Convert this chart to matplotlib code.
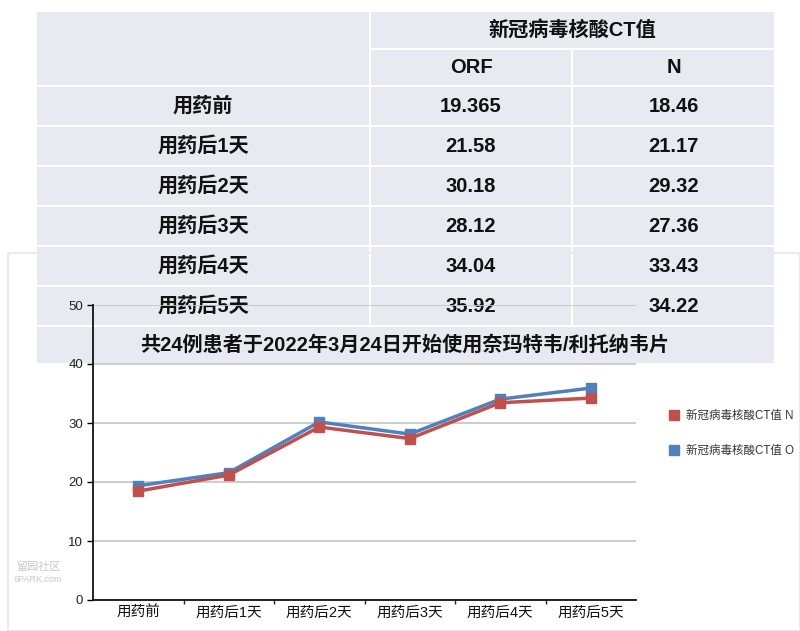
import matplotlib
matplotlib.use("Agg")
import matplotlib.pyplot as plt
from matplotlib.patches import Rectangle
from matplotlib.lines import Line2D

plt.rcParams["font.family"] = ["Liberation Sans", "Noto Sans CJK SC"]

# === DATA ===
days = ["用药前", "用药后1天", "用药后2天", "用药后3天", "用药后4天", "用药后5天"]
ct_orf = [19.365, 21.58, 30.18, 28.12, 34.04, 35.92]
ct_n = [18.46, 21.17, 29.32, 27.36, 33.43, 34.22]
table_orf = ["19.365", "21.58", "30.18", "28.12", "34.04", "35.92"]
table_n = ["18.46", "21.17", "29.32", "27.36", "33.43", "34.22"]
header_top = "新冠病毒核酸CT值"
header_cols = ["ORF", "N"]
legend_labels = ["新冠病毒核酸CT值 N", "新冠病毒核酸CT值 O"]
title = "共24例患者于2022年3月24日开始使用奈玛特韦/利托纳韦片"

RED = "#c0504d"
BLUE = "#4f81bd"
CELL = "#e9eaf1"

W, H = 800, 631
fig = plt.figure(figsize=(W / 100, H / 100), dpi=100)
fig.patch.set_facecolor("white")

# background layer in pixel coords (origin top-left)
bg = fig.add_axes([0, 0, 1, 1], zorder=0)
bg.set_xlim(0, W)
bg.set_ylim(H, 0)
bg.axis("off")

# chart panel behind the table
bg.add_patch(Rectangle((8, 253), W - 8, H - 253, facecolor="white",
                       edgecolor="#e6e6e6", lw=1.2))

# === Table ===
x0, x1, x2, x3 = 36, 370, 572, 775
row_top = [12, 50, 87, 127, 167, 207, 247, 287, 327]
row_bot = [48, 85, 125, 165, 205, 245, 285, 325, 363]
g = 1.2  # half gap between cells

def cell(xa, xb, ya, yb):
    bg.add_patch(Rectangle((xa + g, ya), xb - xa - 2 * g, yb - ya,
                           facecolor=CELL, edgecolor="none"))

tfont = dict(fontsize=14.5, fontweight="bold", color="#111111",
             ha="center", va="center")

# header rows
cell(x0, x1, row_top[0], row_bot[1])
cell(x1, x3, row_top[0], row_bot[0])
cell(x1, x2, row_top[1], row_bot[1])
cell(x2, x3, row_top[1], row_bot[1])
bg.text((x1 + x3) / 2, (row_top[0] + row_bot[0]) / 2, header_top, **tfont)
bg.text((x1 + x2) / 2, (row_top[1] + row_bot[1]) / 2, header_cols[0], **tfont)
bg.text((x2 + x3) / 2, (row_top[1] + row_bot[1]) / 2, header_cols[1], **tfont)

for i, d in enumerate(days):
    ya, yb = row_top[i + 2], row_bot[i + 2]
    cell(x0, x1, ya, yb)
    cell(x1, x2, ya, yb)
    cell(x2, x3, ya, yb)
    yc = (ya + yb) / 2
    bg.text((x0 + x1) / 2, yc, d, **tfont)
    bg.text((x1 + x2) / 2, yc, table_orf[i], **tfont)
    bg.text((x2 + x3) / 2, yc, table_n[i], **tfont)

# last row holds the chart title
cell(x0, x3, row_top[8], row_bot[8])
bg.text(405, 345, title, **tfont)

# watermark
bg.text(38, 567, "留园社区", fontsize=8, color="#c8c8c8", ha="center", va="center")
bg.text(38, 579, "6PARK.com", fontsize=6.5, color="#c8c8c8", ha="center", va="center")

# === Chart ===
ax = fig.add_axes([93 / W, 31 / H, 543 / W, 295 / H], zorder=2)
ax.set_facecolor("none")

x = range(len(days))
ax.plot(x, ct_orf, color=BLUE, lw=2.5, marker="s", markersize=7, zorder=3)
ax.plot(x, ct_n, color=RED, lw=2.5, marker="s", markersize=7, zorder=4)

ax.set_xlim(-0.5, len(days) - 0.5)
ax.set_ylim(0, 50)
ax.set_yticks(range(0, 51, 10))
ax.set_xticks(list(x))
ax.set_xticklabels(days, fontsize=10.5, color="#111111")
ax.set_xticks([i + 0.5 for i in range(len(days) - 1)], minor=True)
ax.tick_params(axis="x", which="major", length=0, pad=4)
ax.tick_params(axis="x", which="minor", length=3, width=1, color="#222222")
ax.tick_params(axis="y", length=4, width=1, labelsize=9.5, labelcolor="#222222", pad=3)

ax.grid(axis="y", color="#c4c4c4", lw=1.2)
ax.set_axisbelow(True)
for s in ["top", "right"]:
    ax.spines[s].set_visible(False)
for s in ["left", "bottom"]:
    ax.spines[s].set_color("#111111")
    ax.spines[s].set_linewidth(1.3)

handles = [Line2D([], [], color=RED, marker="s", linestyle="none", markersize=7),
           Line2D([], [], color=BLUE, marker="s", linestyle="none", markersize=7)]
fig.legend(handles, legend_labels, loc="upper left",
           bbox_to_anchor=(664 / W, 1 - 405 / H), frameon=False,
           fontsize=8.3, labelspacing=2.0, handletextpad=0.5,
           handlelength=1.0, borderaxespad=0, labelcolor="#333333")

fig.savefig("out.png", dpi=100, facecolor="white")
